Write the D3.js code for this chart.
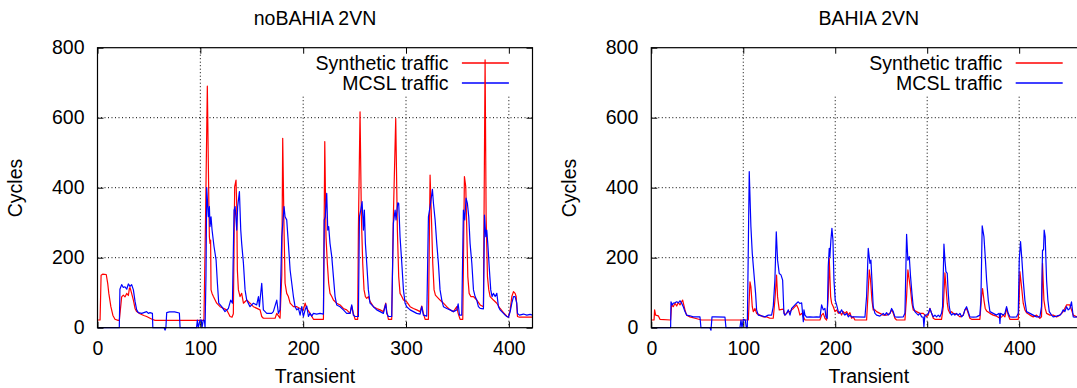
<!DOCTYPE html>
<html>
<head>
<meta charset="utf-8">
<script src="https://cdn.jsdelivr.net/npm/d3@7"></script>
<style>
  body { margin: 0; background: #fff; }
  text { font-family: "Liberation Sans", Arial, Helvetica, sans-serif; }
</style>
</head>
<body>
<div id="chart"></div>
<script>
const WIDTH = 1077;
const HEIGHT = 388;
const PLOT_TOP = 47.7;
const PLOT_BOTTOM = 327.7;
const PLOT_W = 435;
const FONT = 19.5;

const COLOR_SYN = '#ff0000';
const COLOR_MCSL = '#0000ff';

const seriesNames = ['Synthetic traffic', 'MCSL traffic'];
const panelTitles = ['noBAHIA 2VN', 'BAHIA 2VN'];
const xLabel = 'Transient';
const yLabel = 'Cycles';
const yTicks = [0, 200, 400, 600, 800];
const xTicks = [0, 100, 200, 300, 400];

// [transient, cycles]
const noBahiaSynthetic = [[0,22],[2.5,22],[3.5,150],[5,153],[8.5,152],[10,125],[11,98],[13,60],[15,35],[17,24],[20,21],[21.2,21],[23.5,88],[25.1,93],[26.7,88],[28.4,98],[30,92],[31,112],[31.6,115],[33.2,98],[34.9,79],[36.5,55],[38.1,46],[41.3,40],[45,35],[47.8,32],[51.1,27],[53,24],[56,21],[103.5,21],[105,300],[106.8,690],[108.2,374],[108.8,260],[109.4,241],[110,250],[110.4,108],[111.4,98],[112.7,89],[115.9,70],[119.2,60],[125.6,51],[128.9,32],[130.8,30],[132.1,40],[133.4,403],[134.7,422],[135.4,346],[136,165],[137,108],[138.6,89],[140.2,98],[141.9,70],[145.1,79],[148.3,70],[151.6,60],[158.1,51],[159.7,32],[161.3,27],[172.7,27],[174.3,41],[177.5,27],[179.2,150],[180.1,541],[181.4,279],[182.4,127],[184,98],[185.6,89],[187.3,70],[190.5,60],[193.8,60],[197,55],[200.2,51],[201.9,70],[203.5,55],[206.7,41],[210,24],[219.7,24],[221,532],[222.2,260],[223.5,184],[224.8,127],[226.1,98],[227.8,89],[229.4,79],[232.6,70],[235.9,65],[239.1,55],[242.3,51],[245.6,41],[247.2,62],[248.8,41],[250.5,24],[253,24],[253.7,279],[255.3,617],[256.6,317],[257.9,184],[259.2,108],[260.5,89],[261.8,84],[263.4,89],[265,75],[268.3,60],[271.5,55],[274.8,51],[278,46],[280.3,70],[281.3,46],[282.9,24],[286.1,24],[287.7,317],[290,598],[291.6,279],[292.9,146],[294.2,98],[295.9,89],[297.5,79],[300.7,74],[304,60],[307.2,55],[310.4,51],[313.7,46],[315.3,62],[316.9,41],[318.6,24],[321.8,24],[323.4,436],[324.7,317],[326,184],[327.3,108],[328.6,93],[329.9,89],[333.1,79],[336.4,70],[339.6,60],[342.9,51],[346.1,46],[349.4,60],[350.7,41],[352.6,24],[355.2,24],[356.8,432],[358.1,403],[359.1,279],[360.1,146],[361.4,98],[363,89],[365.6,89],[368.8,79],[372.1,65],[375.3,60],[376,374],[376.9,765],[377.9,317],[379.2,146],[380.5,108],[381.8,89],[385,79],[388.3,70],[391.5,55],[394.8,43],[398,33],[399.6,30],[401.3,51],[402.9,89],[404.5,103],[406.1,98],[407.1,89],[408.4,32],[410.3,30],[423,30]];

const noBahiaMcsl = [[0,0],[21.2,0],[21.8,110],[23.5,123],[25.1,115],[26.7,117],[28.4,110],[30,125],[31.6,118],[33.2,123],[34.9,108],[36.5,75],[38.1,51],[39.7,43],[43,41],[47.8,46],[49.4,41],[51.1,43],[53.4,41],[53.8,0],[64.8,0],[65.7,-7],[66.5,0],[67.3,43],[70,45],[75,45],[79.6,42],[80.3,0],[96.3,0],[97.1,22],[98,0],[99.7,22],[101,22],[101.6,0],[102.9,22],[104,20],[104.6,0],[105.5,150],[106.2,400],[107.8,317],[108.8,346],[109.4,289],[110.4,317],[111.4,279],[113.3,232],[115.3,194],[116.6,127],[117.9,70],[120.8,60],[124,46],[127.3,55],[129.5,79],[131.2,70],[132.8,336],[133.8,346],[135.4,279],[136.3,346],[138,389],[139.3,279],[140.2,241],[141.9,184],[143.5,108],[145.1,79],[148.3,60],[151.6,70],[154.8,65],[156.5,89],[157.4,60],[159.7,127],[161.3,51],[164.6,41],[169.4,41],[171,46],[174.3,79],[175.9,41],[177.5,51],[179.2,260],[181.4,346],[182.4,317],[184,308],[185.6,241],[187.3,165],[188.9,127],[190.5,89],[192.1,60],[193.8,51],[195.4,55],[197,36],[198.6,60],[200.2,32],[201.9,51],[203.5,62],[205.1,32],[206.7,41],[208.3,33],[210,41],[213.2,39],[216.4,41],[219.7,39],[220.5,308],[221.5,317],[222.9,384],[223.9,279],[224.8,289],[226.1,241],[227.8,203],[229.4,146],[231,89],[232.6,65],[235.9,60],[239.1,51],[242.3,41],[245.6,41],[247.2,65],[248.8,36],[250.5,32],[253.7,32],[254.7,317],[256,336],[257.3,360],[258.6,279],[259.5,336],[260.5,241],[261.8,184],[263.4,108],[265,70],[268.3,60],[271.5,51],[274.8,46],[278,41],[280.3,68],[281.3,41],[282.9,32],[286.1,32],[287.7,298],[289.4,336],[290.3,308],[292,357],[292.9,355],[294.2,260],[295.9,184],[297.5,108],[299.1,70],[300.7,60],[304,51],[307.2,46],[310.4,41],[313.7,39],[315.3,60],[316.9,36],[320.2,33],[321.8,317],[323.4,346],[325.7,395],[326.7,355],[328.3,308],[329.9,241],[331.5,184],[333.1,108],[334.8,79],[336.4,60],[339.6,55],[342.9,51],[346.1,46],[349.4,51],[350.7,68],[352,36],[354.2,36],[355.8,336],[357.1,308],[358.4,370],[359.7,355],[361,317],[362.3,241],[364,184],[365.6,108],[367.2,89],[368.8,79],[370.4,60],[372.1,55],[375.3,54],[376.3,322],[377.6,260],[378.5,279],[379.5,241],[381.1,165],[382.4,108],[383.7,89],[385,98],[386.7,89],[388.3,98],[389.9,60],[391.5,51],[393.1,46],[394.8,41],[396.4,36],[398,32],[399.6,30],[401.3,46],[402.9,70],[404.5,89],[406.1,89],[407.7,70],[408.4,41],[410.3,36],[414.2,39],[417.5,36],[420.7,38],[423,36]];

const bahiaSynthetic = [[0,22],[3,22],[3.6,51],[4.7,36],[7.6,34],[9.4,24],[21,22],[22.1,65],[23.9,60],[25.7,70],[27.6,62],[29.4,72],[31.2,65],[33,74],[34.1,79],[36.6,51],[38.4,36],[42,31],[47.5,27],[54.7,22],[105.5,22],[107.3,131],[108.3,117],[109.8,60],[110.9,46],[112.7,55],[114.5,41],[118.1,36],[121.8,31],[125.4,31],[129,27],[132.6,27],[134.4,79],[136.2,150],[137.3,88],[139.1,51],[143.5,53],[145.3,36],[147.1,41],[149,46],[150.8,46],[152.6,51],[154.4,55],[156.2,60],[158,65],[159.8,55],[161.6,36],[163.5,41],[165.3,31],[167.1,22],[183.4,22],[185.2,36],[187,41],[188.8,27],[190.6,22],[192.4,89],[193.5,198],[195,89],[196.1,70],[197.9,60],[199.7,46],[201.5,51],[203.3,41],[205.1,46],[206.9,36],[208.7,46],[210.5,41],[212.4,46],[214.2,36],[216,43],[217.8,27],[219.6,31],[221.4,22],[234.1,22],[235.9,108],[237,165],[238.4,136],[239.9,79],[241.3,51],[243.2,51],[245,46],[248.6,41],[252.2,36],[255.8,36],[259.5,41],[261.3,51],[263.1,41],[264.9,27],[266.7,22],[275.8,22],[277.6,89],[279,165],[280.5,136],[281.9,108],[283.4,70],[284.8,51],[288.4,46],[292.1,41],[295.7,41],[299.3,31],[301.1,36],[303,55],[304.8,41],[306.6,27],[308.4,24],[315.6,24],[317.5,60],[319.3,157],[320.4,117],[321.8,70],[322.9,51],[324.7,41],[326.5,46],[328.3,41],[331.9,39],[335.6,31],[339.2,36],[341,51],[342.8,55],[344.6,41],[346.4,27],[348.3,24],[357.3,24],[359.1,88],[360.2,112],[361.7,79],[363.1,55],[364.6,48],[368.2,41],[371.8,36],[375.4,33],[379.1,27],[380.9,31],[382.7,36],[384.5,31],[386.3,55],[388.1,36],[389.9,24],[399,24],[400.1,88],[400.8,160],[402.6,117],[404.4,70],[406.2,51],[408,43],[411.7,36],[415.3,31],[418.9,36],[422.5,27],[424.3,31],[425.4,184],[426.9,79],[428.3,55],[429.8,41],[433.4,36],[437,36],[440.6,31],[444.3,36],[447.9,46],[451.5,65],[455.1,65],[456.9,51],[458.8,36],[462.7,31],[470,31]];

const bahiaMcsl = [[0,0],[21,0],[21.4,74],[22.8,65],[23.9,70],[25.7,71],[27.6,74],[29.4,71],[31.2,77],[33,70],[34.8,60],[36.6,46],[38.4,36],[42,34],[45.7,31],[52.9,31],[54,0],[63.8,0],[64.9,-7],[66,31],[69.2,31],[80.1,30],[81.2,0],[96.4,0],[97.5,22],[98.6,0],[100,24],[102.2,22],[103.3,0],[104.4,0],[106.5,446],[108.3,289],[109.8,212],[111.6,155],[113.4,98],[114.5,51],[116.3,36],[119.9,34],[123.6,31],[127.2,36],[130.8,36],[132.6,60],[134.4,136],[135.9,274],[137.3,193],[139.1,155],[141,151],[142.8,136],[144.2,41],[145.3,36],[147.1,41],[149,51],[150.8,36],[152.6,55],[154.4,60],[156.2,65],[158,70],[159.8,74],[161.6,69],[163.5,71],[165.3,17],[166,51],[167.1,36],[168.9,30],[172.5,31],[176.1,30],[179.8,31],[183.4,30],[185.2,65],[187,51],[188.8,55],[189.9,31],[191.3,27],[192.4,174],[193.5,227],[194.2,203],[195.3,251],[196.4,284],[197.5,251],[198.6,136],[200,79],[201.5,65],[203.3,46],[205.1,41],[206.9,51],[208.7,41],[210.5,36],[212.4,41],[214.2,31],[216,36],[217.8,31],[221.4,31],[232.3,30],[234.1,89],[235.9,227],[237.7,184],[238.8,193],[239.9,136],[241.3,60],[243.2,41],[245,36],[248.6,33],[252.2,41],[254,36],[255.8,43],[257.6,36],[259.5,41],[261.3,55],[263.1,46],[264.9,31],[268.5,30],[274,31],[275.8,41],[277.6,267],[279,193],[280.5,203],[281.9,146],[283.4,98],[284.8,60],[286.6,46],[288.4,41],[290.3,36],[292.1,41],[293.9,31],[295.7,30],[296.4,3],[297.5,36],[299.3,36],[301.2,41],[303,55],[304.8,41],[306.6,31],[308.4,36],[310.2,31],[312,36],[313.8,31],[315.6,41],[316.7,60],[318.2,239],[319.3,193],[320.4,160],[321.8,155],[322.9,98],[324,60],[325.4,41],[326.5,36],[328.3,41],[330.1,36],[331.9,41],[333.8,36],[335.6,41],[337.4,31],[339.2,36],[341,51],[342.8,60],[344.6,46],[346.4,31],[350.1,30],[353.7,31],[357.3,36],[358.4,79],[359.8,291],[361.7,260],[363.1,203],[364.6,136],[366.4,79],[368.2,46],[371.8,41],[375.4,36],[378.3,41],[379.1,12],[379.8,41],[382.7,36],[384.5,41],[386.3,60],[388.1,41],[389.9,31],[393.5,30],[397.2,31],[399,41],[400.1,193],[401.5,246],[403,193],[404.4,136],[406.2,79],[408,46],[411.7,41],[415.3,36],[418.9,31],[422.5,31],[424.3,60],[425.4,222],[426.5,222],[427.2,279],[428.3,260],[429.8,136],[431.2,79],[432.7,46],[435.2,36],[437,31],[440.6,33],[444.3,36],[446.1,41],[447.9,51],[449.7,46],[451.5,60],[453.3,51],[455.1,55],[456.9,74],[458.8,31],[460.6,30],[462.7,31],[470,31]];

const panels = [
  { title: panelTitles[0], left: 97.5, xMax: 423, yLabelX: 22, syn: noBahiaSynthetic, mcsl: noBahiaMcsl },
  { title: panelTitles[1], left: 651.3, xMax: 473, yLabelX: 576, syn: bahiaSynthetic, mcsl: bahiaMcsl }
];

const svg = d3.select('#chart')
  .append('svg')
  .attr('width', WIDTH)
  .attr('height', HEIGHT)
  .style('display', 'block');

panels.forEach(p => drawPanel(p));

function drawPanel(p) {
  const x = d3.scaleLinear().domain([0, p.xMax]).range([p.left, p.left + PLOT_W]);
  const y = d3.scaleLinear().domain([0, 800]).range([PLOT_BOTTOM, PLOT_TOP]);
  const right = p.left + PLOT_W;
  const g = svg.append('g');

  // dotted grid
  g.append('g').selectAll('line')
    .data(yTicks.filter(v => v > 0 && v < 800))
    .join('line')
    .attr('x1', p.left).attr('x2', right)
    .attr('y1', d => y(d)).attr('y2', d => y(d))
    .attr('stroke', '#000').attr('stroke-width', 1)
    .attr('stroke-dasharray', '1,2.5');
  g.append('g').selectAll('line')
    .data(xTicks.filter(v => v > 0))
    .join('line')
    .attr('x1', d => x(d)).attr('x2', d => x(d))
    .attr('y1', PLOT_TOP).attr('y2', PLOT_BOTTOM)
    .attr('stroke', '#000').attr('stroke-width', 1)
    .attr('stroke-dasharray', '1,2.5');

  // opaque key box
  g.append('rect')
    .attr('x', right - 270).attr('y', PLOT_TOP)
    .attr('width', 270).attr('height', 96 - PLOT_TOP)
    .attr('fill', '#fff');

  const key = g.append('g');
  [COLOR_SYN, COLOR_MCSL].forEach((c, i) => {
    const ky = 63 + i * 20;
    key.append('text')
      .attr('x', right - 84).attr('y', ky + 7)
      .attr('text-anchor', 'end')
      .attr('font-size', FONT)
      .text(seriesNames[i]);
    key.append('line')
      .attr('x1', right - 70.6).attr('x2', right - 23.6)
      .attr('y1', ky).attr('y2', ky)
      .attr('stroke', c).attr('stroke-width', 2)
      .attr('stroke-opacity', 0.75);
  });

  const line = d3.line()
    .x(d => x(d[0]))
    .y(d => y(d[1]));

  g.append('path')
    .datum(p.syn)
    .attr('fill', 'none')
    .attr('stroke', COLOR_SYN)
    .attr('stroke-width', 1.2)
    .attr('stroke-linejoin', 'round')
    .attr('d', line);

  g.append('path')
    .datum(p.mcsl)
    .attr('fill', 'none')
    .attr('stroke', COLOR_MCSL)
    .attr('stroke-width', 1.2)
    .attr('stroke-linejoin', 'round')
    .attr('d', line);

  // axes with inward ticks, mirrored on top and right
  const bottomAxis = g.append('g')
    .attr('transform', `translate(0,${PLOT_BOTTOM})`)
    .call(d3.axisBottom(x).tickValues(xTicks).tickSize(-6).tickSizeOuter(0).tickPadding(13));
  const leftAxis = g.append('g')
    .attr('transform', `translate(${p.left},0)`)
    .call(d3.axisLeft(y).tickValues(yTicks).tickSize(-6).tickSizeOuter(0).tickPadding(13));
  g.append('g')
    .attr('transform', `translate(0,${PLOT_TOP})`)
    .call(d3.axisTop(x).tickValues(xTicks).tickSize(-6).tickSizeOuter(0).tickFormat(''));
  g.append('g')
    .attr('transform', `translate(${right},0)`)
    .call(d3.axisRight(y).tickValues(yTicks).tickSize(-6).tickSizeOuter(0).tickFormat(''));

  g.selectAll('.domain').remove();
  g.selectAll('.tick line').attr('stroke', '#000');
  [bottomAxis, leftAxis].forEach(a => a.selectAll('text')
    .attr('font-size', FONT)
    .attr('font-family', '"Liberation Sans", Arial, sans-serif')
    .attr('fill', '#000'));

  g.append('rect')
    .attr('x', p.left).attr('y', PLOT_TOP)
    .attr('width', PLOT_W).attr('height', PLOT_BOTTOM - PLOT_TOP)
    .attr('fill', 'none')
    .attr('stroke', '#000')
    .attr('stroke-width', 1.2);

  const cx = p.left + PLOT_W / 2;
  g.append('text')
    .attr('x', cx).attr('y', 25)
    .attr('text-anchor', 'middle')
    .attr('font-size', FONT)
    .text(p.title);

  g.append('text')
    .attr('x', cx).attr('y', 383)
    .attr('text-anchor', 'middle')
    .attr('font-size', FONT)
    .text(xLabel);

  g.append('text')
    .attr('transform', `translate(${p.yLabelX},188) rotate(-90)`)
    .attr('text-anchor', 'middle')
    .attr('font-size', FONT)
    .text(yLabel);
}
</script>
</body>
</html>
